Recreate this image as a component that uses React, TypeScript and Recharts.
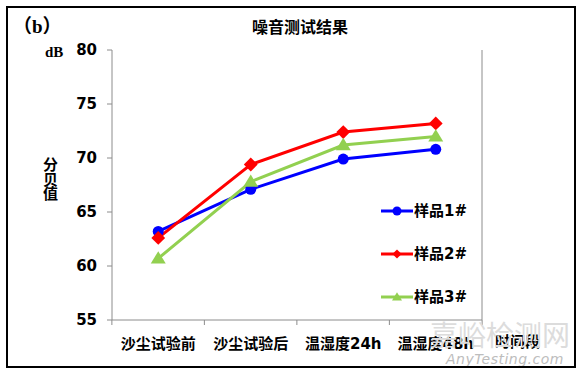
import React from "react";
import { LineChart, Line, XAxis, YAxis } from "recharts";

// 噪音测试结果 - values
const stages = ["沙尘试验前", "沙尘试验后", "温湿度24h", "温湿度48h"];
const sample1 = [63.2, 67.1, 69.9, 70.8];
const sample2 = [62.6, 69.4, 72.4, 73.2];
const sample3 = [60.7, 67.8, 71.2, 72.0];
const yTicks = [55, 60, 65, 70, 75, 80];

const series = [
    { key: "s1", name: "样品1#", color: "#0000FF", shape: "circle" },
    { key: "s2", name: "样品2#", color: "#FF0000", shape: "diamond" },
    { key: "s3", name: "样品3#", color: "#92D050", shape: "triangle" },
];

const data = stages.map((stage, i) => ({
    stage,
    s1: sample1[i],
    s2: sample2[i],
    s3: sample3[i],
}));

const W = 581;
const H = 378;
const margin = { top: 50, right: 98, bottom: 0, left: 0 };
const yAxisWidth = 112;
const xAxisHeight = 58;
const band = (W - margin.right - yAxisWidth) / stages.length;

const cjk = "'DejaVu Sans', 'Noto Sans CJK SC', sans-serif";
const axisGray = "#8c8c8c";

const Marker = ({ shape, cx, cy, color, s }: any) => {
    if (shape === "circle") return <circle cx={cx} cy={cy} r={s} fill={color} />;
    if (shape === "diamond")
        return (
            <polygon
                points={`${cx},${cy - s * 1.15} ${cx + s * 1.15},${cy} ${cx},${cy + s * 1.15} ${cx - s * 1.15},${cy}`}
                fill={color}
            />
        );
    return (
        <polygon
            points={`${cx},${cy - s * 1.2} ${cx + s * 1.25},${cy + s * 0.85} ${cx - s * 1.25},${cy + s * 0.85}`}
            fill={color}
        />
    );
};

// Excel-style category axis: tick marks sit between categories
const XTick = ({ x, y, payload, index }: any) => (
    <g>
        <line x1={x - band / 2} y1={y} x2={x - band / 2} y2={y + 5} stroke={axisGray} />
        {index === stages.length - 1 && (
            <line x1={x + band / 2} y1={y} x2={x + band / 2} y2={y + 5} stroke={axisGray} />
        )}
        <text
            x={x}
            y={y + 29}
            textAnchor="middle"
            fontFamily={cjk}
            fontWeight="bold"
            fontSize={15}
            fill="#000"
        >
            {payload.value}
        </text>
    </g>
);

const LegendBox = () => (
    <div style={{ display: "flex", flexDirection: "column", gap: 19 }}>
        {series.map((s) => (
            <div key={s.key} style={{ display: "flex", alignItems: "center", height: 24 }}>
                <svg width={34} height={14}>
                    <line x1={1} y1={7} x2={33} y2={7} stroke={s.color} strokeWidth={3} />
                    <Marker shape={s.shape} cx={17} cy={7} color={s.color} s={s.shape === "circle" ? 4.5 : 4} />
                </svg>
                <span style={{ fontFamily: cjk, fontWeight: "bold", fontSize: 15, color: "#000" }}>
                    {s.name}
                </span>
            </div>
        ))}
    </div>
);

const abs = (left: number, top: number, extra: React.CSSProperties = {}): React.CSSProperties => ({
    position: "absolute",
    left,
    top,
    lineHeight: 1,
    whiteSpace: "nowrap",
    ...extra,
});

export default function App() {
    return (
        <div style={{ position: "fixed", left: 0, top: 0, width: W, height: H, background: "#fff", overflow: "hidden" }}>
            <div style={{ position: "absolute", left: 0, top: 0 }}>
                <LineChart width={W} height={H} data={data} margin={margin}>
                    <XAxis
                        dataKey="stage"
                        scale="band"
                        height={xAxisHeight}
                        axisLine={{ stroke: axisGray, strokeWidth: 1 }}
                        tickLine={false}
                        tickSize={0}
                        tickMargin={0}
                        interval={0}
                        tick={<XTick />}
                    />
                    <XAxis
                        xAxisId="top"
                        dataKey="stage"
                        scale="band"
                        orientation="top"
                        height={0}
                        axisLine={{ stroke: axisGray, strokeWidth: 1 }}
                        tick={false}
                        tickLine={false}
                    />
                    <YAxis
                        domain={[55, 80]}
                        ticks={yTicks}
                        interval={0}
                        width={yAxisWidth}
                        axisLine={{ stroke: axisGray, strokeWidth: 1 }}
                        tickLine={{ stroke: axisGray }}
                        tickSize={5}
                        tickMargin={10}
                        tick={{ fill: "#000", fontSize: 15, fontWeight: "bold", fontFamily: "'DejaVu Sans', sans-serif" }}
                    />
                    <YAxis
                        yAxisId="right"
                        orientation="right"
                        width={1}
                        domain={[55, 80]}
                        axisLine={{ stroke: axisGray, strokeWidth: 1 }}
                        tick={false}
                        tickLine={false}
                    />
                    {series.map((s) => (
                        <Line
                            key={s.key}
                            dataKey={s.key}
                            name={s.name}
                            stroke={s.color}
                            strokeWidth={3}
                            isAnimationActive={false}
                            dot={(p: any) => (
                                <Marker
                                    key={p.index}
                                    shape={s.shape}
                                    cx={p.cx}
                                    cy={p.cy}
                                    color={s.color}
                                    s={s.shape === "circle" ? 5.5 : 6}
                                />
                            )}
                            activeDot={false}
                        />
                    ))}
                </LineChart>
            </div>

            <div style={abs(380, 199)}>
                <LegendBox />
            </div>

            <div style={abs(13, 17, { fontFamily: "'Liberation Serif', 'Noto Sans CJK SC', serif", fontWeight: "bold", fontSize: 19 })}>（b）</div>
            <div style={abs(252, 20, { fontFamily: cjk, fontWeight: "bold", fontSize: 16 })}>噪音测试结果</div>
            <div style={abs(45, 45, { fontFamily: "'Liberation Serif', serif", fontWeight: "bold", fontSize: 15 })}>dB</div>
            <div style={abs(43, 158, { fontFamily: cjk, fontWeight: "bold", fontSize: 15, width: 16, whiteSpace: "normal", lineHeight: "14.5px" })}>
                分贝值
            </div>
            <div style={abs(495, 335, { fontFamily: cjk, fontWeight: "bold", fontSize: 15 })}>时间段</div>

            <div style={abs(430, 320, { fontFamily: "'Noto Sans CJK SC', sans-serif", fontSize: 28, color: "#dcdcdc" })}>
                嘉峪检测网
            </div>
            <div style={abs(446, 352, { fontFamily: "'DejaVu Sans', sans-serif", fontStyle: "italic", fontSize: 14, color: "#bdbdbd", letterSpacing: 0.5 })}>
                AnyTesting.com
            </div>

            {/* outer picture frame */}
            <div
                style={{
                    position: "absolute",
                    left: 6,
                    top: 6,
                    width: 570,
                    height: 362,
                    boxSizing: "border-box",
                    border: "2px solid #000",
                    pointerEvents: "none",
                }}
            />
        </div>
    );
}
